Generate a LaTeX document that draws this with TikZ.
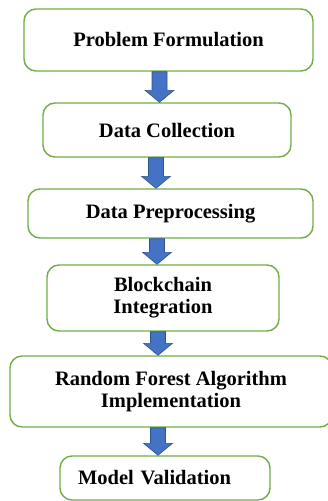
\documentclass[tikz,border=0pt]{standalone}
\usepackage{fontspec}
\setmainfont{Liberation Serif}
\usepackage{xcolor}
\usepackage{tikz}
\usetikzlibrary{arrows.meta, positioning, calc}

\definecolor{boxgreen}{HTML}{70AD47}
\definecolor{arrowblue}{HTML}{4472C4}
\definecolor{arrowedge}{HTML}{2F528F}

\tikzset{
  stepbox/.style={draw=boxgreen, line width=1.4pt, rounded corners=12pt,
    fill=white, inner sep=0pt, align=center,
    font=\fontsize{20.5}{22}\selectfont\bfseries},
  downarrow/.style={fill=arrowblue, draw=arrowedge, line width=0.6pt}
}

% block arrow from the bottom of #1 to the top of #2, centred on x = #3
\newcommand{\flowarrow}[3]{%
  \path let \p1=(#1.south), \p2=(#2.north) in
    [downarrow] (#3pt-7.5pt,\y1) -- (#3pt+7.5pt,\y1) -- (#3pt+7.5pt,\y2+12pt)
    -- (#3pt+14.5pt,\y2+12pt) -- (#3pt,\y2) -- (#3pt-14.5pt,\y2+12pt)
    -- (#3pt-7.5pt,\y2+12pt) -- cycle;}

\begin{document}
\begin{tikzpicture}[x=1pt, y=-1pt]

  \useasboundingbox (0,0) rectangle (328,501);

  % the six stages
  \node[stepbox, minimum width=289pt, minimum height=62pt] (problem) at (168.5,40) {Problem Formulation};
  \node[stepbox, minimum width=248pt, minimum height=54pt] (collect) at (167,130) {Data Collection};
  \node[stepbox, minimum width=285pt, minimum height=49pt] (prep) at (170.5,213.5) {Data Preprocessing};
  \node[stepbox, minimum width=232pt, minimum height=66pt] (chain) at (163,298) {Blockchain\\Integration};
  \node[stepbox, minimum width=322pt, minimum height=71pt] (forest) at (171,391.5) {Random Forest Algorithm\\Implementation};
  \node[stepbox, minimum width=210pt, minimum height=44pt, text width=174pt, inner xsep=18pt, align=left] (valid) at (165,478) {Model Validation};

  % arrows between stages
  \flowarrow{problem}{collect}{159.5}
  \flowarrow{collect}{prep}{156}
  \flowarrow{prep}{chain}{157}
  \flowarrow{chain}{forest}{158}
  \flowarrow{forest}{valid}{158}

\end{tikzpicture}
\end{document}
